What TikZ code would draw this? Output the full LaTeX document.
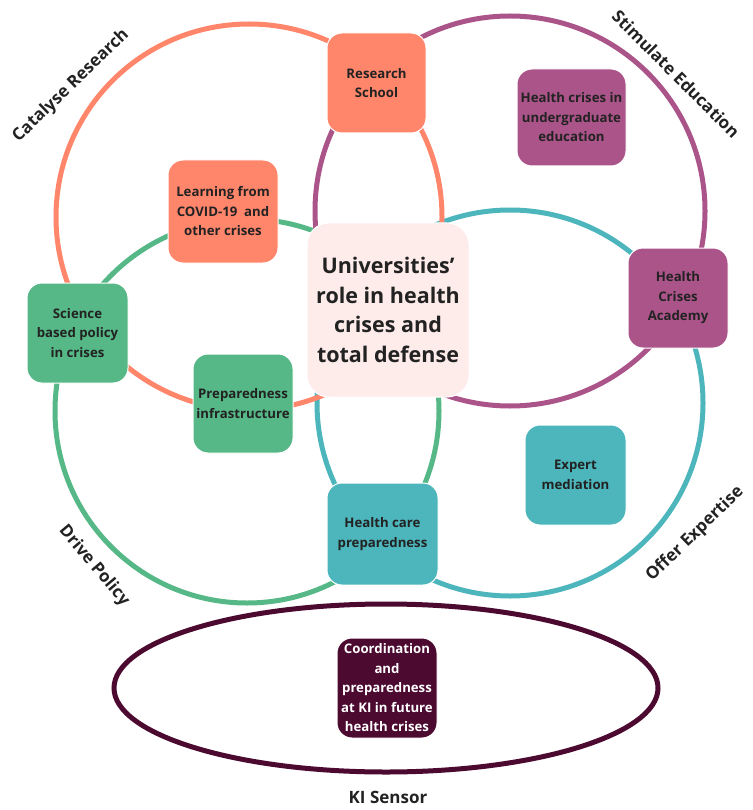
\documentclass[tikz,border=0pt]{standalone}
\usepackage{fontspec}
\setmainfont{Open Sans}
\definecolor{csalmon}{HTML}{FF856B}
\definecolor{cpurple}{HTML}{AB5489}
\definecolor{cgreen}{HTML}{55B886}
\definecolor{cteal}{HTML}{4DB5BC}
\definecolor{cpink}{HTML}{FDECEA}
\definecolor{cmaroon}{HTML}{4D0A31}
\definecolor{ctext}{HTML}{222222}
\begin{document}
\begin{tikzpicture}[x=1pt,y=-1pt,
  ring/.style={line width=5pt},
  box/.style={rounded corners=15pt, draw=white, line width=1pt, align=center,
    minimum width=100pt, minimum height=100pt, inner sep=1pt, text=ctext,
    font=\bfseries\fontsize{13.2}{19.5}\selectfont},
  hub/.style={rounded corners=22pt, fill=cpink, draw=white, line width=1pt, align=center,
    minimum width=162pt, minimum height=174pt, text=ctext,
    font=\bfseries\fontsize{21.5}{29.5}\selectfont},
  lab/.style={text=ctext, font=\bfseries\fontsize{17}{20}\selectfont, inner sep=0pt}]
\useasboundingbox (0,0) rectangle (752,810);
% rings
\draw[ring, cgreen] (247,411) circle[radius=192];
\draw[ring, cteal] (510,403) circle[radius=193];
\draw[ring, cpurple] (510,211) circle[radius=195];
\draw[ring, csalmon] (249,217) circle[radius=193];
\draw[ring, cmaroon] (386,688) ellipse[x radius=272, y radius=84];
% boxes
\node[box, fill=csalmon, minimum width=99pt] (rs) at (376.5,83) {Research\\School};
\node[box, fill=csalmon, minimum width=110pt, minimum height=103pt] (lc) at (223,211.5) {Learning from\\COVID-19\ \ and\\other crises};
\node[box, fill=cpurple, minimum width=109pt, minimum height=97pt] (hu) at (571.5,117.5) {Health crises in\\undergraduate\\education};
\node[box, fill=cpurple] (ha) at (678,298) {Health\\Crises\\Academy};
\node[box, fill=cgreen, minimum width=101pt] (sp) at (77.5,333) {Science\\based policy\\in crises};
\node[box, fill=cgreen, minimum height=99pt] (pi) at (243,403.5) {Preparedness\\infrastructure};
\node[box, fill=cteal, minimum width=111pt, minimum height=102pt] (hc) at (382.5,534) {Health care\\preparedness};
\node[box, fill=cteal, minimum width=101pt] (em) at (575.5,475) {Expert\\mediation};
\node[hub] (ur) at (388,310) {Universities{\char"27}\\role in health\\crises and\\total defense};
\node[box, fill=cmaroon, text=white] (co) at (387,688) {Coordination\\and\\preparedness\\at KI in future\\health crises};
% labels
\node[lab, rotate=44] (l1) at (71,86) {Catalyse Research};
\node[lab, rotate=-45] (l2) at (676,74) {Stimulate Education};
\node[lab, rotate=-50] (l3) at (94,566) {Drive Policy};
\node[lab, rotate=44] (l4) at (695,534) {Offer Expertise};
\node[lab] (l5) at (388,797) {KI Sensor};
\end{tikzpicture}
\end{document}
